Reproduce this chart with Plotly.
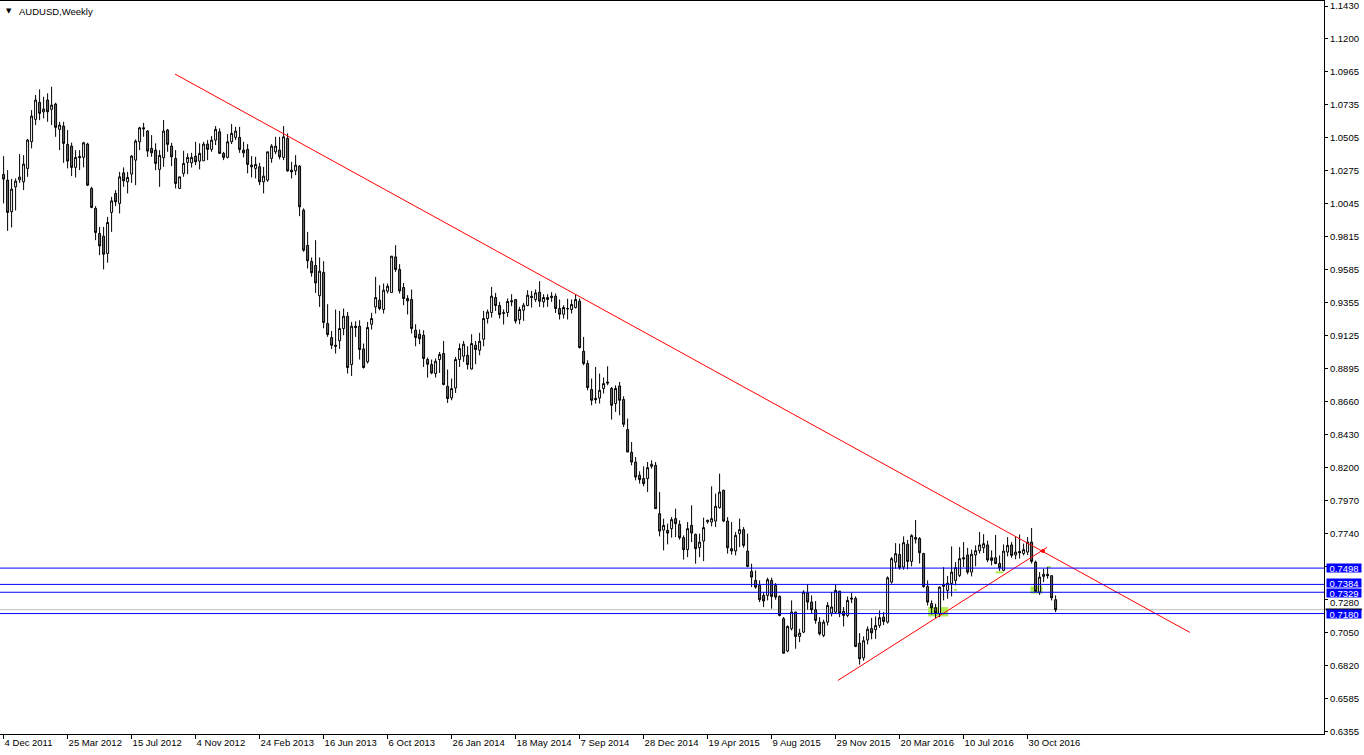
import pandas as pd
import plotly.graph_objects as go

# ---------------- data (AUDUSD weekly) ----------------
start_date = "2011-12-04"

opens = [
1.0252,1.0212,0.9991,1.0165,1.0214,1.0200,1.0294,1.0480,1.0637,1.0756,
1.0690,1.0772,1.0707,1.0744,1.0567,1.0590,1.0462,1.0450,1.0301,1.0378,
1.0371,1.0464,1.0154,1.0014,0.9839,0.9820,0.9699,0.9986,1.0119,1.0049,
1.0263,1.0200,1.0254,1.0352,1.0480,1.0578,1.0555,1.0434,1.0422,1.0287,
1.0368,1.0562,1.0450,1.0364,1.0154,1.0259,1.0336,1.0333,1.0380,1.0345,
1.0347,1.0464,1.0427,1.0492,1.0550,1.0399,1.0371,1.0480,1.0511,1.0511,
1.0422,1.0427,1.0317,1.0294,1.0305,1.0200,1.0212,1.0364,1.0410,1.0422,
1.0371,1.0504,1.0282,1.0277,1.0310,1.0002,0.9755,0.9643,0.9615,0.9403,
0.9566,0.9209,0.9111,0.9057,0.9088,0.9174,0.9260,0.8922,0.9190,0.9190,
0.9031,0.8941,0.9204,0.9325,0.9372,0.9307,0.9435,0.9426,0.9675,0.9587,
0.9461,0.9384,0.9377,0.9162,0.9134,0.9127,0.8957,0.8922,0.8859,0.8957,
0.8999,0.8770,0.8689,0.8758,0.8957,0.8980,0.8987,0.8891,0.9057,0.9022,
0.9099,0.9244,0.9286,0.9391,0.9335,0.9279,0.9286,0.9360,0.9377,0.9237,
0.9302,0.9335,0.9400,0.9377,0.9428,0.9360,0.9377,0.9400,0.9400,0.9314,
0.9274,0.9314,0.9307,0.9321,0.9365,0.9015,0.8929,0.8747,0.8686,0.8688,
0.8754,0.8800,0.8754,0.8649,0.8772,0.8677,0.8467,0.8308,0.8240,0.8147,
0.8124,0.8124,0.8210,0.8217,0.7879,0.7764,0.7762,0.7774,0.7844,0.7804,
0.7711,0.7627,0.7797,0.7734,0.7641,0.7687,0.7822,0.7820,0.7827,0.7921,
0.8042,0.7827,0.7634,0.7618,0.7739,0.7767,0.7617,0.7475,0.7412,0.7377,
0.7307,0.7307,0.7412,0.7377,0.7300,0.7144,0.6918,0.7074,0.7191,0.7020,
0.7050,0.7324,0.7260,0.7207,0.7120,0.7027,0.7120,0.7184,0.7190,0.7337,
0.7195,0.7167,0.7289,0.7286,0.6973,0.6870,0.6995,0.7075,0.7067,0.7097,
0.7155,0.7120,0.7400,0.7540,0.7594,0.7505,0.7665,0.7545,0.7700,0.7705,
0.7600,0.7370,0.7250,0.7221,0.7180,0.7370,0.7342,0.7390,0.7412,0.7447,
0.7571,0.7590,0.7470,0.7590,0.7620,0.7640,0.7660,0.7570,0.7570,0.7530,
0.7482,0.7610,0.7660,0.7590,0.7615,0.7600,0.7610,0.7680,0.7540,0.7330,
0.7440,0.7455,0.7445,0.7277]

highs = [
1.0380,1.0282,1.0221,1.0224,1.0394,1.0387,1.0500,1.0702,1.0807,1.0847,
1.0795,1.0819,1.0865,1.0753,1.0620,1.0620,1.0562,1.0474,1.0422,1.0422,
1.0480,1.0473,1.0165,1.0030,0.9885,0.9885,0.9955,1.0095,1.0142,1.0270,
1.0301,1.0270,1.0387,1.0497,1.0585,1.0613,1.0562,1.0527,1.0469,1.0422,
1.0632,1.0570,1.0473,1.0422,1.0235,1.0417,1.0399,1.0403,1.0480,1.0469,
1.0480,1.0492,1.0520,1.0590,1.0574,1.0410,1.0534,1.0604,1.0585,1.0585,
1.0480,1.0464,1.0380,1.0375,1.0333,1.0305,1.0410,1.0464,1.0515,1.0515,
1.0590,1.0539,1.0340,1.0387,1.0317,1.0014,0.9850,0.9671,0.9792,0.9671,
0.9645,0.9344,0.9157,0.9307,0.9297,0.9314,0.9290,0.9220,0.9225,0.9232,
0.9069,0.9220,0.9284,0.9535,0.9477,0.9489,0.9489,0.9680,0.9757,0.9624,
0.9493,0.9407,0.9447,0.9204,0.9167,0.9162,0.8971,0.8957,0.8964,0.9010,
0.9087,0.8887,0.8824,0.8975,0.9069,0.9087,0.9050,0.9134,0.9087,0.9144,
0.9297,0.9307,0.9465,0.9423,0.9360,0.9307,0.9384,0.9414,0.9377,0.9325,
0.9353,0.9442,0.9437,0.9447,0.9505,0.9414,0.9414,0.9428,0.9419,0.9377,
0.9337,0.9382,0.9377,0.9414,0.9384,0.9115,0.8952,0.8824,0.8905,0.8859,
0.8831,0.8910,0.8765,0.8777,0.8800,0.8700,0.8544,0.8380,0.8275,0.8175,
0.8210,0.8240,0.8252,0.8240,0.8030,0.7844,0.7809,0.7855,0.7914,0.7832,
0.7727,0.7820,0.7937,0.7739,0.7739,0.7851,0.7837,0.8070,0.8019,0.8159,
0.8047,0.7855,0.7820,0.7750,0.7844,0.7785,0.7739,0.7529,0.7482,0.7412,
0.7330,0.7431,0.7431,0.7393,0.7307,0.7156,0.7097,0.7272,0.7191,0.7074,
0.7342,0.7384,0.7307,0.7268,0.7155,0.7137,0.7260,0.7330,0.7384,0.7337,
0.7225,0.7300,0.7324,0.7300,0.7043,0.7020,0.7090,0.7150,0.7160,0.7202,
0.7190,0.7440,0.7575,0.7673,0.7669,0.7720,0.7695,0.7735,0.7835,0.7715,
0.7605,0.7412,0.7272,0.7249,0.7370,0.7505,0.7443,0.7650,0.7540,0.7645,
0.7680,0.7640,0.7627,0.7657,0.7750,0.7735,0.7690,0.7622,0.7730,0.7587,
0.7664,0.7715,0.7680,0.7720,0.7733,0.7669,0.7715,0.7778,0.7550,0.7470,
0.7494,0.7505,0.7447,0.7307]

lows = [
1.0049,0.9857,0.9881,1.0000,1.0193,1.0142,1.0235,1.0434,1.0597,1.0632,
1.0644,1.0620,1.0597,1.0515,1.0422,1.0333,1.0294,1.0240,1.0231,1.0282,
1.0301,1.0170,1.0016,0.9792,0.9687,0.9587,0.9634,0.9850,1.0030,0.9979,
1.0165,1.0119,1.0193,1.0177,1.0422,1.0515,1.0375,1.0375,1.0282,1.0165,
1.0305,1.0410,1.0310,1.0154,1.0150,1.0235,1.0254,1.0300,1.0317,1.0287,
1.0347,1.0352,1.0410,1.0457,1.0399,1.0352,1.0364,1.0464,1.0492,1.0403,
1.0371,1.0259,1.0231,1.0224,1.0177,1.0119,1.0200,1.0333,1.0394,1.0357,
1.0352,1.0270,1.0224,1.0247,0.9960,0.9711,0.9594,0.9536,0.9423,0.9325,
0.9176,0.9116,0.9031,0.8999,0.9031,0.9127,0.8859,0.8842,0.9115,0.8957,
0.8894,0.8929,0.9167,0.9279,0.9302,0.9279,0.9419,0.9426,0.9570,0.9419,
0.9337,0.9272,0.9139,0.9050,0.9064,0.8905,0.8830,0.8854,0.8831,0.8863,
0.8777,0.8653,0.8672,0.8723,0.8905,0.8940,0.8887,0.8887,0.8924,0.8987,
0.9050,0.9209,0.9251,0.9297,0.9244,0.9202,0.9255,0.9330,0.9209,0.9204,
0.9227,0.9330,0.9321,0.9360,0.9325,0.9321,0.9325,0.9360,0.9283,0.9237,
0.9244,0.9237,0.9279,0.9314,0.9034,0.8917,0.8742,0.8637,0.8649,0.8649,
0.8719,0.8777,0.8537,0.8591,0.8567,0.8485,0.8310,0.8217,0.8112,0.8089,
0.8070,0.8030,0.8194,0.7914,0.7720,0.7622,0.7664,0.7711,0.7715,0.7697,
0.7557,0.7575,0.7680,0.7529,0.7575,0.7547,0.7809,0.7790,0.7785,0.7914,
0.7820,0.7599,0.7592,0.7587,0.7645,0.7641,0.7505,0.7365,0.7354,0.7260,
0.7225,0.7272,0.7214,0.7277,0.7160,0.6900,0.6910,0.7062,0.6934,0.6980,
0.7043,0.7207,0.7179,0.7109,0.7027,0.7015,0.7097,0.7160,0.7179,0.7155,
0.7090,0.7155,0.7253,0.6945,0.6823,0.6850,0.6965,0.7000,0.7003,0.7080,
0.7100,0.7110,0.7389,0.7494,0.7487,0.7487,0.7490,0.7510,0.7670,0.7530,
0.7360,0.7237,0.7174,0.7147,0.7155,0.7272,0.7284,0.7300,0.7377,0.7435,
0.7505,0.7455,0.7440,0.7510,0.7600,0.7603,0.7540,0.7517,0.7525,0.7478,
0.7477,0.7580,0.7570,0.7560,0.7565,0.7587,0.7590,0.7530,0.7330,0.7310,
0.7400,0.7424,0.7272,0.7190]

closes = [
1.0219,0.9986,1.0149,1.0205,1.0233,1.0324,1.0492,1.0660,1.0772,1.0679,
1.0709,1.0690,1.0737,1.0581,1.0597,1.0469,1.0345,1.0301,1.0371,1.0369,
1.0473,1.0177,1.0021,0.9846,0.9752,0.9694,0.9916,1.0067,1.0060,1.0235,
1.0207,1.0231,1.0380,1.0485,1.0578,1.0571,1.0415,1.0403,1.0329,1.0385,
1.0555,1.0462,1.0375,1.0189,1.0235,1.0329,1.0371,1.0371,1.0340,1.0399,
1.0464,1.0427,1.0492,1.0567,1.0399,1.0371,1.0480,1.0539,1.0555,1.0427,
1.0403,1.0322,1.0305,1.0322,1.0200,1.0240,1.0410,1.0450,1.0450,1.0375,
1.0515,1.0277,1.0270,1.0317,1.0025,0.9722,0.9648,0.9564,0.9493,0.9575,
0.9216,0.9132,0.9057,0.9050,0.9174,0.9260,0.8901,0.9190,0.9181,0.9027,
0.8901,0.9181,0.9244,0.9391,0.9314,0.9442,0.9470,0.9680,0.9587,0.9437,
0.9384,0.9367,0.9174,0.9111,0.9102,0.8964,0.8924,0.8863,0.8945,0.8992,
0.8782,0.8684,0.8754,0.8957,0.9034,0.9064,0.8922,0.9069,0.9027,0.9085,
0.9244,0.9290,0.9400,0.9335,0.9272,0.9284,0.9363,0.9367,0.9227,0.9307,
0.9337,0.9407,0.9391,0.9423,0.9365,0.9391,0.9391,0.9391,0.9314,0.9274,
0.9321,0.9312,0.9342,0.9377,0.9041,0.8929,0.8761,0.8672,0.8677,0.8742,
0.8789,0.8793,0.8637,0.8754,0.8672,0.8504,0.8310,0.8240,0.8135,0.8117,
0.8089,0.8201,0.8224,0.7914,0.7757,0.7797,0.7743,0.7837,0.7809,0.7711,
0.7627,0.7774,0.7743,0.7634,0.7680,0.7781,0.7832,0.7844,0.7930,0.8030,
0.7827,0.7641,0.7618,0.7727,0.7767,0.7657,0.7510,0.7435,0.7365,0.7277,
0.7268,0.7417,0.7300,0.7295,0.7167,0.6903,0.7090,0.7191,0.7020,0.7043,
0.7330,0.7260,0.7207,0.7132,0.7039,0.7120,0.7237,0.7226,0.7342,0.7183,
0.7167,0.7272,0.7282,0.6950,0.6864,0.6990,0.7070,0.7045,0.7097,0.7151,
0.7125,0.7430,0.7564,0.7599,0.7501,0.7676,0.7545,0.7725,0.7712,0.7605,
0.7370,0.7260,0.7220,0.7185,0.7365,0.7384,0.7393,0.7470,0.7501,0.7564,
0.7562,0.7470,0.7595,0.7620,0.7660,0.7669,0.7555,0.7552,0.7530,0.7500,
0.7617,0.7657,0.7587,0.7610,0.7605,0.7627,0.7680,0.7545,0.7335,0.7435,
0.7455,0.7445,0.7290,0.7207]

x_tick_labels = ["4 Dec 2011", "25 Mar 2012", "15 Jul 2012", "4 Nov 2012", "24 Feb 2013",
                 "16 Jun 2013", "6 Oct 2013", "26 Jan 2014", "18 May 2014", "7 Sep 2014",
                 "28 Dec 2014", "19 Apr 2015", "9 Aug 2015", "29 Nov 2015", "20 Mar 2016",
                 "10 Jul 2016", "30 Oct 2016"]
# labels of the 23 evenly spaced price ticks; "" = label hidden behind a level tag
y_tick_labels = ["1.1430", "1.1200", "1.0965", "1.0735", "1.0505", "1.0275", "1.0045",
                 "0.9815", "0.9585", "0.9355", "0.9125", "0.8895", "0.8660", "0.8430",
                 "0.8200", "0.7970", "0.7740", "", "", "0.7050", "0.6820",
                 "0.6585", "0.6355"]
partly_hidden_tick = "0.7280"   # drawn separately, squeezed under the 0.7329 tag

# horizontal levels (blue), bid line, trend lines, highlight boxes
h_levels = [0.7498, 0.7384, 0.7329, 0.7180]
h_level_shift = [0, 1, -1, 0]     # label nudges in px so stacked tags just touch
bid_price = 0.7207
down_trend_dates = ["2012-09-29", "2017-08-10"]
down_trend_prices = [1.0954, 0.7048]
up_trend_dates = ["2015-12-03", "2016-12-03"]
up_trend_prices = [0.6712, 0.7643]
cross_date = "2016-11-26"
cross_price = 0.7618
green_box_dates = [("2016-05-09", "2016-06-13"), ("2016-11-04", "2016-11-25"),
                   ("2016-06-23", "2016-06-28"), ("2016-09-04", "2016-09-18"),
                   ("2016-12-03", "2016-12-10")]
green_box_prices = [(0.7160, 0.7225), (0.7320, 0.7370), (0.7339, 0.7353),
                    (0.7461, 0.7475), (0.7498, 0.7512)]

# ---------------- figure ----------------
dates = pd.date_range(start_date, periods=len(closes), freq="7D")
week = pd.Timedelta(days=7)
FONT = "Liberation Sans"
FS = 9.5

fig = go.Figure()
fig.add_trace(go.Candlestick(
    x=dates, open=opens, high=highs, low=lows, close=closes,
    increasing=dict(line=dict(color="black", width=1), fillcolor="white"),
    decreasing=dict(line=dict(color="black", width=1), fillcolor="#6a6a6a"),
    whiskerwidth=0, hoverinfo="skip", showlegend=False))

# trend lines
fig.add_trace(go.Scatter(x=pd.to_datetime(down_trend_dates), y=down_trend_prices, mode="lines",
                         line=dict(color="#ff0000", width=1), hoverinfo="skip", showlegend=False))
fig.add_trace(go.Scatter(x=pd.to_datetime(up_trend_dates), y=up_trend_prices, mode="lines",
                         line=dict(color="#ff0000", width=1), hoverinfo="skip", showlegend=False))
fig.add_trace(go.Scatter(x=[pd.Timestamp(cross_date)], y=[cross_price], mode="markers",
                         marker=dict(color="#ff0000", size=4, symbol="circle",
                                     line=dict(width=0)),
                         hoverinfo="skip", showlegend=False))

y_top, y_bot = 1.1430, 0.6355
n_int = len(y_tick_labels) - 1
y_tick_vals = [y_top - i * (y_top - y_bot) / n_int for i in range(len(y_tick_labels))]

shapes = []
for (d0, d1), (p0, p1) in zip(green_box_dates, green_box_prices):
    shapes.append(dict(type="rect", xref="x", yref="y", x0=d0, x1=d1, y0=p0, y1=p1,
                       fillcolor="#adeb50", line=dict(width=0), layer="below"))
shapes.append(dict(type="line", xref="paper", yref="y", x0=0, x1=1, y0=bid_price, y1=bid_price,
                   line=dict(color="#c0c0c0", width=1), layer="below"))
for lv in h_levels:
    shapes.append(dict(type="line", xref="paper", yref="y", x0=0, x1=1, y0=lv, y1=lv,
                       line=dict(color="#0000ff", width=1)))
# bid price tag on the axis: only a thin black strip peeks out above the 0.7180 tag
shapes.append(dict(type="rect", xref="paper", yref="y", x0=1.0012, x1=1.0285,
                   y0=bid_price - 0.0004, y1=bid_price + 0.0008,
                   fillcolor="black", line=dict(width=0)))

annotations = []
annotations.append(dict(xref="paper", yref="y", x=1, y=y_tick_vals[18], xanchor="left",
                        xshift=4, yshift=-3, text=partly_hidden_tick, showarrow=False,
                        font=dict(color="black", size=FS, family=FONT), height=7))
for lv, sh in zip(h_levels, h_level_shift):
    annotations.append(dict(xref="paper", yref="y", x=1, y=lv, xanchor="left", xshift=2,
                            yshift=sh, text="%.4f" % lv, showarrow=False, bgcolor="#0000ff",
                            font=dict(color="white", size=FS, family=FONT),
                            width=34, height=8, borderpad=0))
annotations.append(dict(xref="paper", yref="paper", x=0, y=1, xanchor="left", yanchor="top",
                        xshift=4, yshift=-4, text="▼", showarrow=False,
                        font=dict(color="black", size=7, family="DejaVu Sans")))
annotations.append(dict(xref="paper", yref="paper", x=0, y=1, xanchor="left", yanchor="top",
                        xshift=17, yshift=-3, text="AUDUSD,Weekly", showarrow=False,
                        font=dict(color="black", size=FS, family=FONT)))

fig.update_layout(
    width=1364, height=755,
    margin=dict(l=0, r=40, t=1, b=21),
    paper_bgcolor="white", plot_bgcolor="white",
    font=dict(family=FONT, size=FS, color="black"),
    shapes=shapes, annotations=annotations,
    xaxis=dict(type="date", range=[dates[0] - 0.9 * week, dates[0] + 330.1 * week],
               rangeslider=dict(visible=False),
               tickvals=list(dates[::16])[:len(x_tick_labels)], ticktext=x_tick_labels,
               ticks="outside", ticklen=4, tickcolor="black", tickwidth=1,
               ticklabelposition="outside right",
               showgrid=False, zeroline=False, showline=True, linecolor="black",
               linewidth=1, mirror=True, fixedrange=True),
    yaxis=dict(side="right", range=[0.63375, 1.1465], tickvals=y_tick_vals, ticktext=y_tick_labels,
               ticks="outside", ticklen=3, tickcolor="black", tickwidth=1,
               showgrid=False, zeroline=False, showline=True, linecolor="black",
               linewidth=1, mirror=True, fixedrange=True),
)

fig.write_html("out.html", config={"displayModeBar": False})
